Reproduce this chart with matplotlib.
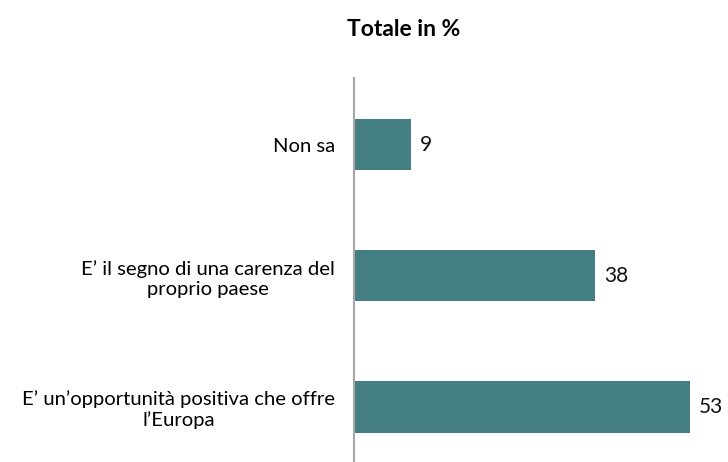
import matplotlib.pyplot as plt

categories = ["Non sa",
              "E\u2019 il segno di una carenza del\nproprio paese",
              "E\u2019 un\u2019opportunità positiva che offre\nl\u2019Europa"]
values = [9, 38, 53]

plt.rcParams["font.family"] = ["Lato", "DejaVu Sans"]

fig = plt.figure(figsize=(7.28, 4.62), dpi=100)
ax = fig.add_axes([354 / 728, 0, 374 / 728, (462 - 78) / 462])

pos = range(len(categories))
ax.barh(pos, values, height=0.39, color="#437F82")
for p, v in zip(pos, values):
    ax.text(v + 1.4, p, str(v), va="center", ha="left", fontsize=15, color="#111111")

ax.set_xlim(0, 59)
ax.set_ylim(2.42, -0.51)
ax.set_yticks(list(pos))
ax.set_yticklabels(categories, fontsize=14.6, multialignment="center", linespacing=1.2)
ax.tick_params(axis="y", length=0, pad=13.5)
ax.set_xticks([])
for s in ["top", "right", "bottom"]:
    ax.spines[s].set_visible(False)
ax.spines["left"].set_color("#A6A6A6")
ax.spines["left"].set_linewidth(1.5)

fig.text(404 / 728, 1 - 30 / 462, "Totale in %", ha="center", va="center",
         fontsize=16.5, fontweight="bold")

plt.savefig("out.png", dpi=100)
